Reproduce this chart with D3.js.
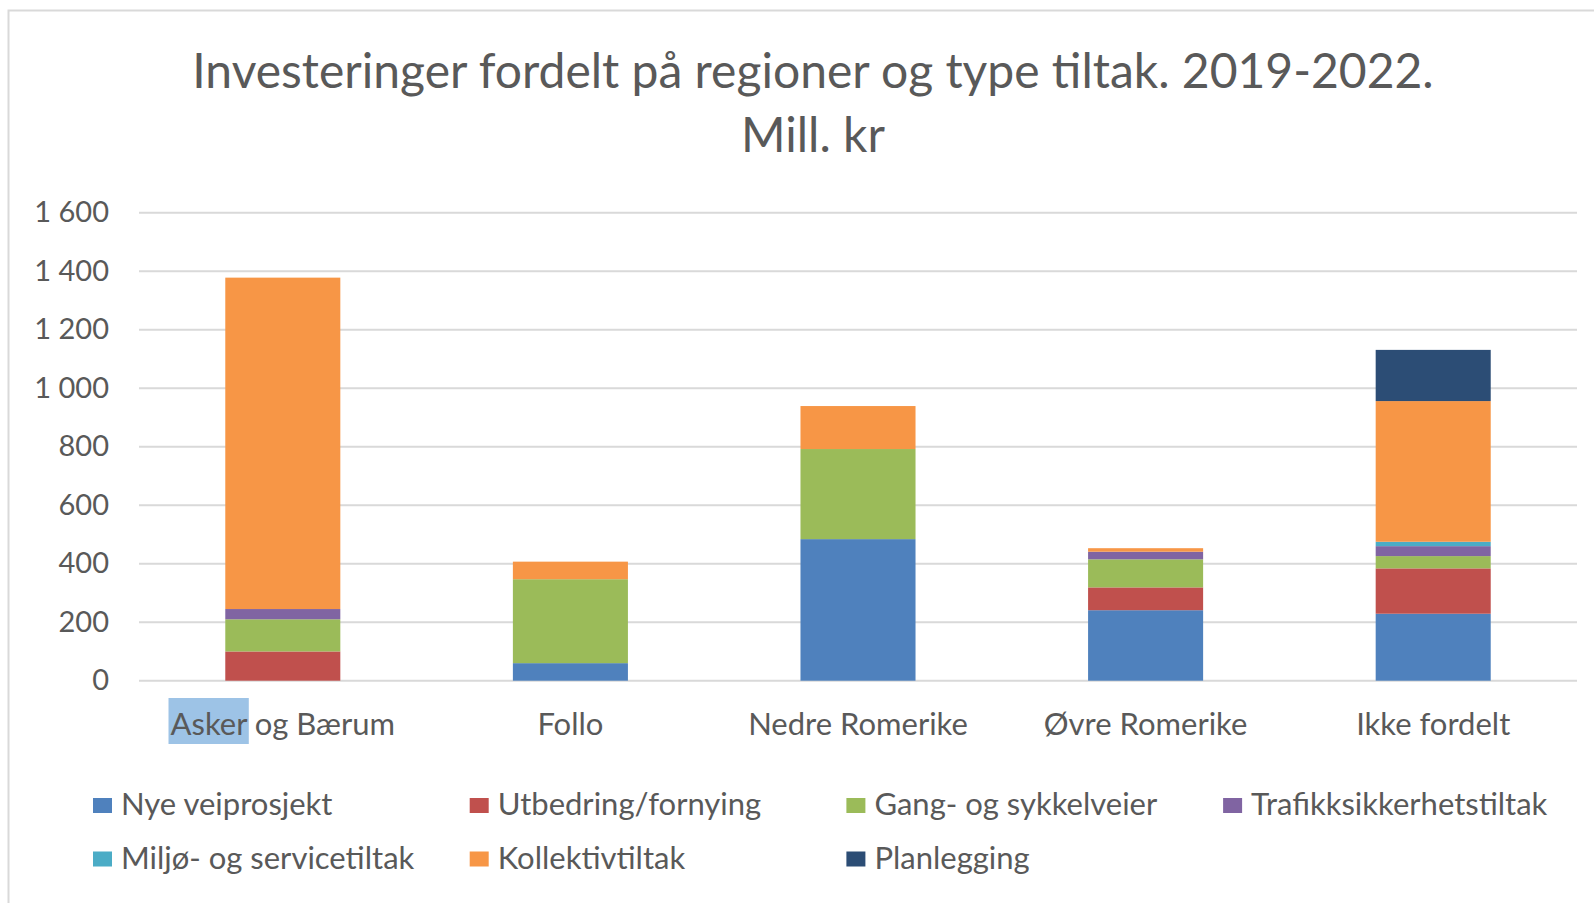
<!DOCTYPE html>
<html>
<head>
<meta charset="utf-8">
<script src="https://cdn.jsdelivr.net/npm/d3@7"></script>
<style>
  html, body { margin: 0; padding: 0; background: #fff; }
  svg { display: block; font-family: Lato, "Open Sans", sans-serif; }
</style>
</head>
<body>
<div id="container"></div>
<script>
// Regions (x axis)
const regions = ["Asker og Bærum", "Follo", "Nedre Romerike", "Øvre Romerike", "Ikke fordelt"];

// Series, values in mill. kr, one per region
const seriesNames = [
  "Nye veiprosjekt", "Utbedring/fornying", "Gang- og sykkelveier", "Trafikksikkerhetstiltak",
  "Miljø- og servicetiltak", "Kollektivtiltak", "Planlegging"
];
const nyeVeiprosjekt = [0, 60, 484, 241, 229];
const utbedring      = [100, 0, 0, 78, 155];
const gangSykkel     = [110, 287, 308, 96, 42];
const trafikksikker  = [35, 0, 0, 26, 34];
const miljoService   = [0, 0, 0, 0, 15];
const kollektiv      = [1133, 60, 147, 12, 481];
const planlegging    = [0, 0, 0, 0, 175];

const seriesColors = ["#4f81bd", "#c0504d", "#9bbb59", "#8064a2", "#4bacc6", "#f79646", "#2c4d75"];

const yTicks = [0, 200, 400, 600, 800, 1000, 1200, 1400, 1600];

const allSeries = [nyeVeiprosjekt, utbedring, gangSykkel, trafikksikker, miljoService, kollektiv, planlegging];

const data = regions.map((r, i) => {
  const row = {region: r};
  seriesNames.forEach((s, k) => row[s] = allSeries[k][i]);
  return row;
});

const W = 1594, H = 903;
const svg = d3.select("#container").append("svg")
  .attr("width", W)
  .attr("height", H);

// frame
svg.append("rect")
  .attr("x", 8.5).attr("y", 10.5)
  .attr("width", W + 20).attr("height", H + 20)
  .attr("fill", "#fff")
  .attr("stroke", "#d9d9d9")
  .attr("stroke-width", 2);

const margin = {top: 212.7, left: 139, right: 17};
const plotBottom = 680.7;

const x = d3.scaleBand()
  .domain(regions)
  .range([margin.left, W - margin.right])
  .paddingInner(0.6)
  .paddingOuter(0.3);

const y = d3.scaleLinear()
  .domain([0, 1600])
  .range([plotBottom, margin.top]);

const fmt = d3.formatLocale({decimal: ",", thousands: "\u00a0", grouping: [3], currency: ["", " kr"]}).format(",d");

// title
const title = svg.append("text")
  .attr("text-anchor", "middle")
  .attr("fill", "#595959")
  .style("font-size", "48px");
title.append("tspan").attr("x", 813).attr("y", 88).text("Investeringer fordelt på regioner og type tiltak. 2019-2022.");
title.append("tspan").attr("x", 813).attr("y", 152).text("Mill. kr");

// gridlines
svg.append("g")
  .selectAll("line")
  .data(yTicks)
  .join("line")
  .attr("x1", margin.left)
  .attr("x2", W - margin.right)
  .attr("y1", d => y(d))
  .attr("y2", d => y(d))
  .attr("stroke", "#d9d9d9")
  .attr("stroke-width", 2);

// y axis labels
const yAxis = svg.append("g")
  .attr("transform", `translate(${margin.left - 30},0)`)
  .call(d3.axisLeft(y).tickValues(yTicks).tickFormat(fmt).tickSize(0).tickPadding(0));
yAxis.select(".domain").remove();
yAxis.selectAll("text")
  .attr("fill", "#595959")
  .style("font-family", "Lato, sans-serif")
  .style("font-size", "29px");

// stacked bars
const stack = d3.stack().keys(seriesNames);
const stacked = stack(data);

svg.append("g")
  .selectAll("g")
  .data(stacked)
  .join("g")
  .attr("fill", (d, i) => seriesColors[i])
  .selectAll("rect")
  .data(d => d)
  .join("rect")
  .attr("x", d => x(d.data.region))
  .attr("width", x.bandwidth())
  .attr("y", d => y(d[1]))
  .attr("height", d => y(d[0]) - y(d[1]));

// x axis labels
const xAxis = svg.append("g")
  .attr("transform", `translate(0,${plotBottom})`)
  .call(d3.axisBottom(x).tickSize(0).tickPadding(0));
xAxis.select(".domain").remove();
xAxis.selectAll("text")
  .attr("y", 54)
  .attr("dy", 0)
  .attr("fill", "#595959")
  .style("font-family", "Lato, sans-serif")
  .style("font-size", "31px");

// selection highlight behind "Asker"
const firstLabel = xAxis.select(".tick text").node();
const len = firstLabel.getSubStringLength(0, 5);
const start = firstLabel.getStartPositionOfChar(0);
const tickX = x(regions[0]) + x.bandwidth() / 2;
svg.insert("rect", "g")
  .attr("x", tickX + start.x - 2)
  .attr("y", 698)
  .attr("width", len + 4)
  .attr("height", 46)
  .attr("fill", "#9dc3e6");

// legend
const legendCols = 4, colW = 376.7;
const legend = svg.append("g");
seriesNames.forEach((name, i) => {
  const col = i % legendCols, row = Math.floor(i / legendCols);
  const item = legend.append("g")
    .attr("transform", `translate(${93 + col * colW},${806 + row * 53.5})`);
  item.append("rect")
    .attr("x", 0).attr("y", -8)
    .attr("width", 19).attr("height", 15)
    .attr("fill", seriesColors[i]);
  item.append("text")
    .attr("x", 28)
    .attr("y", 9)
    .attr("fill", "#595959")
    .style("font-size", "31px")
    .text(name);
});
</script>
</body>
</html>
